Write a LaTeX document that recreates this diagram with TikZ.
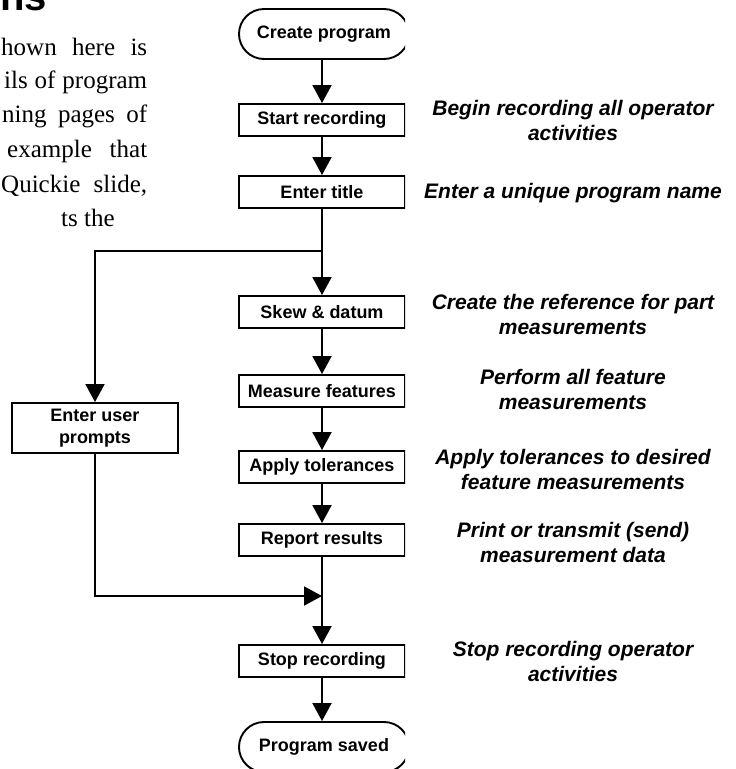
\documentclass[tikz,border=0pt]{standalone}
\usepackage{fontspec}
\setmainfont{Liberation Serif}
\newfontfamily\arial{Liberation Sans}
\usetikzlibrary{arrows.meta,shapes.misc}

\begin{document}
\begin{tikzpicture}[x=1pt,y=-1pt,
    stepbox/.style={draw,line width=1.9pt,minimum width=166pt,minimum height=32pt,
      inner sep=0pt,align=center,font=\arial\bfseries\fontsize{18}{22}\selectfont},
    termbox/.style={stepbox,rounded rectangle,minimum height=50pt,minimum width=170pt},
    flow/.style={line width=1.9pt,-{Triangle[width=19pt,length=18pt]}},
    note/.style={align=center,font=\arial\bfseries\itshape\fontsize{21}{25}\selectfont},
    body/.style={anchor=base west,inner sep=0pt,font=\fontsize{25}{34}\selectfont}]
    \clip (0,0) rectangle (736,769);
    % page text left of the chart
    \node[anchor=base east,inner sep=0pt,font=\arial\bfseries\fontsize{40}{40}\selectfont] (head) at (47,10) {ns};
    \node[body] (l1) at (1,55) {\makebox[146pt][s]{hown here is}};
    \node[body] (l2) at (4,88) {\makebox[143pt][s]{ils of program}};
    \node[body] (l3) at (2,122) {\makebox[145pt][s]{ning pages of}};
    \node[body] (l4) at (7,157) {\makebox[140pt][s]{example that}};
    \node[body] (l5) at (1,192) {\makebox[146pt][s]{Quickie slide,}};
    \node[body] (l6) at (61,226) {ts the};
    % chart, cut at its right edge
    \begin{scope}
      \clip (0,0) rectangle (405,769);
      \node[termbox] (create) at (324,34) {Create program};
      \node[stepbox] (start) at (322,120) {Start recording};
      \node[stepbox] (title) at (322,192) {Enter title};
      \node[stepbox] (skew) at (322,312) {Skew \& datum};
      \node[stepbox] (measure) at (322,391) {Measure features};
      \node[stepbox] (apply) at (322,467) {Apply tolerances};
      \node[stepbox] (report) at (322,540) {Report results};
      \node[stepbox] (stop) at (322,661) {Stop recording};
      \node[termbox] (saved) at (324,747) {Program saved};
      \node[stepbox,minimum height=50pt] (prompts) at (95,428) {Enter user\\prompts};
      \coordinate (split) at (322,251);
      \coordinate (merge) at (322,596);
      \draw[flow] (create.south -| start.north) -- (start);
      \draw[flow] (start) -- (title);
      \draw[flow] (title) -- (skew);
      \draw[flow] (skew) -- (measure);
      \draw[flow] (measure) -- (apply);
      \draw[flow] (apply) -- (report);
      \draw[flow] (report) -- (stop);
      \draw[flow] (stop) -- (saved.north -| stop.south);
      \draw[flow] (split) -| (prompts);
      \draw[flow] (prompts) |- (merge);
    \end{scope}
    % notes
    \node[note] (nstart) at (573,120.5) {Begin recording all operator\\activities};
    \node[note] (ntitle) at (573,193) {Enter a unique program name};
    \node[note] (nskew) at (573,314.5) {Create the reference for part\\measurements};
    \node[note] (nmeasure) at (573,389.5) {Perform all feature\\measurements};
    \node[note] (napply) at (573,469.5) {Apply tolerances to desired\\feature measurements};
    \node[note] (nreport) at (573,542) {Print or transmit (send)\\measurement data};
    \node[note] (nstop) at (573,661.5) {Stop recording operator\\activities};
  \end{tikzpicture}
\end{document}
